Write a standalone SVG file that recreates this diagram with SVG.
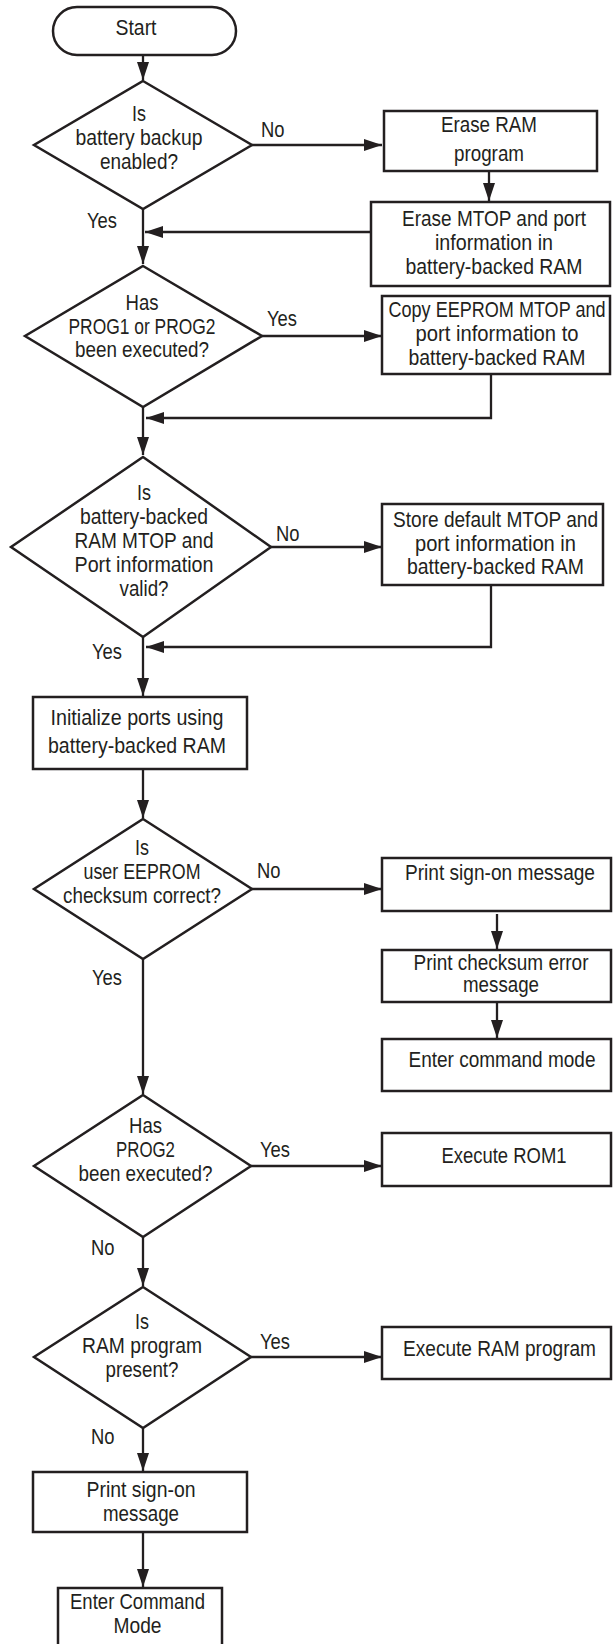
<svg xmlns="http://www.w3.org/2000/svg" width="613" height="1644" viewBox="0 0 613 1644">
<style>
.n{fill:#fff;stroke:#231f20;stroke-width:2.5}
.c{fill:none;stroke:#231f20;stroke-width:2.3}
.t{font-family:"Liberation Sans",Arial,sans-serif;font-size:22px;fill:#231f20;text-anchor:middle}
.l{font-family:"Liberation Sans",Arial,sans-serif;font-size:22px;fill:#231f20}
</style>
<defs>
<marker id="ah" markerUnits="userSpaceOnUse" markerWidth="18" markerHeight="12" refX="18" refY="6" orient="auto">
<path d="M0,0 L18,6 L0,12 z" fill="#231f20"/>
</marker>
</defs>
<rect width="613" height="1644" fill="#fff"/>
<g id="connectors" class="c" marker-end="url(#ah)">
<path d="M143,55 V80"/>
<path d="M252,145 H382"/>
<path d="M489,171 V201"/>
<path d="M371,232 H145"/>
<path d="M143,209 V264"/>
<path d="M262,336 H382"/>
<path d="M491,374 V418 H146"/>
<path d="M143,407 V455"/>
<path d="M271,547 H382"/>
<path d="M491,585 V647 H146"/>
<path d="M143,637 V696"/>
<path d="M143,769 V818"/>
<path d="M252,889 H382"/>
<path d="M497,914 V949"/>
<path d="M497,1002 V1038"/>
<path d="M143,959 V1094"/>
<path d="M251,1166 H382"/>
<path d="M143,1237 V1286"/>
<path d="M251,1357 H382"/>
<path d="M143,1428 V1471"/>
<path d="M143,1532 V1587"/>
</g>
<g id="labels" class="l" lengthAdjust="spacingAndGlyphs">
<text x="261" y="137" textLength="23.5" lengthAdjust="spacingAndGlyphs">No</text>
<text x="87" y="228" textLength="30" lengthAdjust="spacingAndGlyphs">Yes</text>
<text x="267" y="326" textLength="30" lengthAdjust="spacingAndGlyphs">Yes</text>
<text x="276" y="541" textLength="23.5" lengthAdjust="spacingAndGlyphs">No</text>
<text x="92" y="659" textLength="30" lengthAdjust="spacingAndGlyphs">Yes</text>
<text x="257" y="878" textLength="23.5" lengthAdjust="spacingAndGlyphs">No</text>
<text x="92" y="985" textLength="30" lengthAdjust="spacingAndGlyphs">Yes</text>
<text x="260" y="1157" textLength="30" lengthAdjust="spacingAndGlyphs">Yes</text>
<text x="91" y="1255" textLength="23.5" lengthAdjust="spacingAndGlyphs">No</text>
<text x="260" y="1349" textLength="30" lengthAdjust="spacingAndGlyphs">Yes</text>
<text x="91" y="1444" textLength="23.5" lengthAdjust="spacingAndGlyphs">No</text>
</g>
<g id="start">
<rect class="n" x="53" y="7" width="183" height="48" rx="24"/>
<text class="t" x="136" y="35" textLength="41" lengthAdjust="spacingAndGlyphs">Start</text>
</g>
<g id="d1">
<polygon class="n" points="143,81 252,145 143,209 34,145"/>
<text class="t" x="139" y="121" textLength="14" lengthAdjust="spacingAndGlyphs">Is</text>
<text class="t" x="139" y="145" textLength="127" lengthAdjust="spacingAndGlyphs">battery backup</text>
<text class="t" x="139" y="169" textLength="78" lengthAdjust="spacingAndGlyphs">enabled?</text>
</g>
<g id="eraseRam">
<rect class="n" x="384" y="111" width="213" height="60"/>
<text class="t" x="489" y="132" textLength="96" lengthAdjust="spacingAndGlyphs">Erase RAM</text>
<text class="t" x="489" y="161" textLength="70" lengthAdjust="spacingAndGlyphs">program</text>
</g>
<g id="eraseMtop">
<rect class="n" x="371" y="202" width="239" height="84"/>
<text class="t" x="494" y="226" textLength="184" lengthAdjust="spacingAndGlyphs">Erase MTOP and port</text>
<text class="t" x="494" y="250" textLength="118" lengthAdjust="spacingAndGlyphs">information in</text>
<text class="t" x="494" y="273.5" textLength="177" lengthAdjust="spacingAndGlyphs">battery-backed RAM</text>
</g>
<g id="d2">
<polygon class="n" points="143,266 262,336 143,407 25,336"/>
<text class="t" x="142" y="310" textLength="33" lengthAdjust="spacingAndGlyphs">Has</text>
<text class="t" x="142" y="334" textLength="147" lengthAdjust="spacingAndGlyphs">PROG1 or PROG2</text>
<text class="t" x="142" y="357" textLength="134" lengthAdjust="spacingAndGlyphs">been executed?</text>
</g>
<g id="copyEeprom">
<rect class="n" x="382" y="296" width="228" height="78"/>
<text class="t" x="497" y="317" textLength="217" lengthAdjust="spacingAndGlyphs">Copy EEPROM MTOP and</text>
<text class="t" x="497" y="341" textLength="163" lengthAdjust="spacingAndGlyphs">port information to</text>
<text class="t" x="497" y="365" textLength="177" lengthAdjust="spacingAndGlyphs">battery-backed RAM</text>
</g>
<g id="d3">
<polygon class="n" points="143,457 271,547 143,637 11,547"/>
<text class="t" x="144" y="500" textLength="14" lengthAdjust="spacingAndGlyphs">Is</text>
<text class="t" x="144" y="524" textLength="128" lengthAdjust="spacingAndGlyphs">battery-backed</text>
<text class="t" x="144" y="548" textLength="139" lengthAdjust="spacingAndGlyphs">RAM MTOP and</text>
<text class="t" x="144" y="572" textLength="139" lengthAdjust="spacingAndGlyphs">Port information</text>
<text class="t" x="144" y="596" textLength="49" lengthAdjust="spacingAndGlyphs">valid?</text>
</g>
<g id="storeDefault">
<rect class="n" x="382" y="504" width="221" height="81"/>
<text class="t" x="495.5" y="527" textLength="205" lengthAdjust="spacingAndGlyphs">Store default MTOP and</text>
<text class="t" x="495.5" y="551" textLength="161" lengthAdjust="spacingAndGlyphs">port information in</text>
<text class="t" x="495.5" y="574" textLength="177" lengthAdjust="spacingAndGlyphs">battery-backed RAM</text>
</g>
<g id="initPorts">
<rect class="n" x="33" y="697" width="214" height="72"/>
<text class="t" x="137" y="725" textLength="173" lengthAdjust="spacingAndGlyphs">Initialize ports using</text>
<text class="t" x="137" y="753" textLength="178" lengthAdjust="spacingAndGlyphs">battery-backed RAM</text>
</g>
<g id="d4">
<polygon class="n" points="143,819 252,889 143,959 34,889"/>
<text class="t" x="142" y="855" textLength="14" lengthAdjust="spacingAndGlyphs">Is</text>
<text class="t" x="142" y="879" textLength="117" lengthAdjust="spacingAndGlyphs">user EEPROM</text>
<text class="t" x="142" y="903" textLength="158" lengthAdjust="spacingAndGlyphs">checksum correct?</text>
</g>
<g id="printSignOn1">
<rect class="n" x="382" y="858" width="229" height="53"/>
<text class="t" x="500" y="880" textLength="190" lengthAdjust="spacingAndGlyphs">Print sign-on message</text>
</g>
<g id="printChecksum">
<rect class="n" x="382" y="950" width="229" height="52"/>
<text class="t" x="501" y="970" textLength="175" lengthAdjust="spacingAndGlyphs">Print checksum error</text>
<text class="t" x="501" y="992" textLength="76" lengthAdjust="spacingAndGlyphs">message</text>
</g>
<g id="enterCmd1">
<rect class="n" x="382" y="1039" width="229" height="52"/>
<text class="t" x="502" y="1067" textLength="187" lengthAdjust="spacingAndGlyphs">Enter command mode</text>
</g>
<g id="d5">
<polygon class="n" points="143,1095 251,1166 143,1237 34,1166"/>
<text class="t" x="145.5" y="1133" textLength="33" lengthAdjust="spacingAndGlyphs">Has</text>
<text class="t" x="145.5" y="1157" textLength="59" lengthAdjust="spacingAndGlyphs">PROG2</text>
<text class="t" x="145.5" y="1181" textLength="134" lengthAdjust="spacingAndGlyphs">been executed?</text>
</g>
<g id="execRom1">
<rect class="n" x="382" y="1133" width="229" height="53"/>
<text class="t" x="504" y="1163" textLength="125" lengthAdjust="spacingAndGlyphs">Execute ROM1</text>
</g>
<g id="d6">
<polygon class="n" points="143,1287 251,1357 143,1428 34,1357"/>
<text class="t" x="142" y="1329" textLength="14" lengthAdjust="spacingAndGlyphs">Is</text>
<text class="t" x="142" y="1353" textLength="120" lengthAdjust="spacingAndGlyphs">RAM program</text>
<text class="t" x="142" y="1377" textLength="73" lengthAdjust="spacingAndGlyphs">present?</text>
</g>
<g id="execRam">
<rect class="n" x="382" y="1327" width="229" height="52"/>
<text class="t" x="499.5" y="1356" textLength="193" lengthAdjust="spacingAndGlyphs">Execute RAM program</text>
</g>
<g id="printSignOn2">
<rect class="n" x="33" y="1472" width="214" height="60"/>
<text class="t" x="141" y="1497" textLength="109" lengthAdjust="spacingAndGlyphs">Print sign-on</text>
<text class="t" x="141" y="1521" textLength="76" lengthAdjust="spacingAndGlyphs">message</text>
</g>
<g id="enterCmd2">
<rect class="n" x="58" y="1588" width="164" height="62"/>
<text class="t" x="137.5" y="1609" textLength="135" lengthAdjust="spacingAndGlyphs">Enter Command</text>
<text class="t" x="137.5" y="1633" textLength="48" lengthAdjust="spacingAndGlyphs">Mode</text>
</g>
</svg>
